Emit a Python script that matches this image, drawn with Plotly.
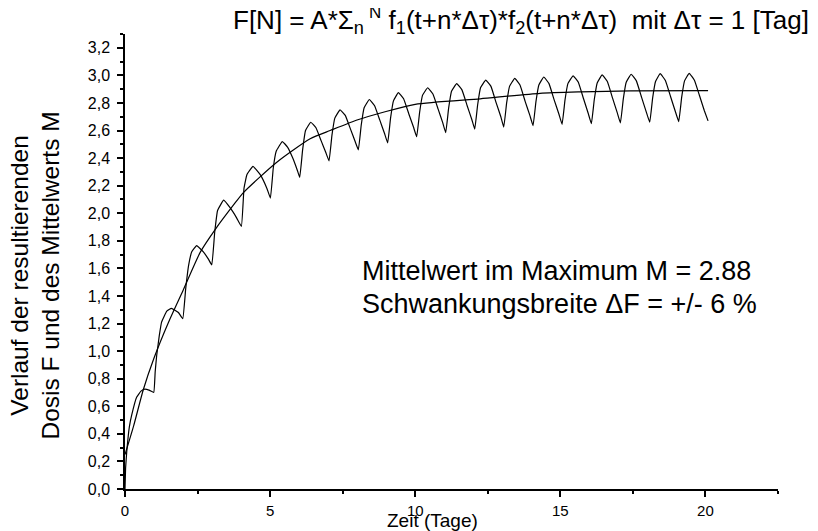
import plotly.graph_objects as go

# Sawtooth curve F (resulting dose)
t_F = [0.0, 0.02, 0.06, 0.15, 0.23, 0.40, 0.55, 0.68, 0.85, 0.99,
       1.04, 1.09, 1.18, 1.26, 1.44, 1.60, 1.84, 1.99,
       2.09, 2.19, 2.30, 2.47, 2.70, 2.88, 2.99,
       3.09, 3.19, 3.40, 3.62, 3.85, 4.01,
       4.10, 4.20, 4.41, 4.66, 4.89, 5.01,
       5.11, 5.21, 5.42, 5.60, 5.78, 5.94, 6.02,
       6.12, 6.22, 6.40, 6.58, 6.76, 6.92, 7.03,
       7.13, 7.23, 7.41, 7.59, 7.77, 7.93, 8.04,
       8.14, 8.24, 8.42, 8.60, 8.78, 8.94, 9.05,
       9.15, 9.25, 9.42, 9.60, 9.78, 9.94, 10.05,
       10.15, 10.25, 10.43, 10.61, 10.79, 10.95, 11.05,
       11.15, 11.25, 11.43, 11.61, 11.79, 11.95, 12.05,
       12.15, 12.25, 12.43, 12.61, 12.79, 12.95, 13.05,
       13.15, 13.25, 13.43, 13.61, 13.79, 13.95, 14.06,
       14.16, 14.26, 14.43, 14.61, 14.79, 14.95, 15.06,
       15.16, 15.26, 15.44, 15.62, 15.80, 15.96, 16.07,
       16.17, 16.27, 16.44, 16.62, 16.80, 16.96, 17.07,
       17.17, 17.27, 17.44, 17.62, 17.80, 17.96, 18.08,
       18.18, 18.28, 18.44, 18.62, 18.80, 18.96, 19.08,
       19.18, 19.28, 19.44, 19.62, 19.80, 19.96, 20.09]
F_values = [0.0, 0.15, 0.27, 0.45, 0.535, 0.665, 0.71, 0.725, 0.715, 0.70,
            0.85, 0.965, 1.11, 1.21, 1.29, 1.31, 1.28, 1.235,
            1.45, 1.62, 1.72, 1.765, 1.72, 1.665, 1.625,
            1.86, 2.02, 2.095, 2.04, 1.965, 1.905,
            2.18, 2.28, 2.34, 2.28, 2.18, 2.11,
            2.33, 2.45, 2.52, 2.48, 2.40, 2.31, 2.26,
            2.46, 2.60, 2.66, 2.62, 2.525, 2.44, 2.38,
            2.565, 2.69, 2.75, 2.71, 2.61, 2.52, 2.46,
            2.64, 2.765, 2.825, 2.78, 2.675, 2.58, 2.51,
            2.69, 2.815, 2.875, 2.83, 2.72, 2.625, 2.555,
            2.73, 2.855, 2.91, 2.865, 2.755, 2.655, 2.585,
            2.76, 2.885, 2.94, 2.895, 2.78, 2.68, 2.61,
            2.785, 2.91, 2.965, 2.92, 2.80, 2.70, 2.625,
            2.80, 2.92, 2.978, 2.93, 2.81, 2.71, 2.635,
            2.81, 2.93, 2.988, 2.94, 2.82, 2.72, 2.645,
            2.82, 2.94, 2.997, 2.95, 2.83, 2.725, 2.65,
            2.825, 2.945, 3.003, 2.955, 2.835, 2.73, 2.655,
            2.83, 2.95, 3.008, 2.96, 2.84, 2.735, 2.66,
            2.835, 2.955, 3.012, 2.963, 2.845, 2.74, 2.665,
            2.84, 2.96, 3.015, 2.965, 2.85, 2.745, 2.67]

# Mean curve M
t_M = [0.0, 0.3, 0.63, 1.0, 1.5, 2.0, 2.6, 3.1, 3.74, 4.08, 5.23, 6.38,
       7.07, 8.05, 10.0, 12.24, 14.3, 15.69, 17.41, 20.09]
M_values = [0.25, 0.46, 0.72, 0.95, 1.21, 1.44, 1.72, 1.88, 2.06, 2.15, 2.37,
            2.54, 2.60, 2.68, 2.79, 2.83, 2.87, 2.88, 2.887, 2.89]

title_text = ("F[N] = A*Σ<sub>n</sub><sup> <span style='font-size:17px'>N</span></sup> "
              "f<sub>1</sub>(t+n*Δτ)*f<sub>2</sub>(t+n*Δτ)  mit Δτ = 1 [Tag]")
y_title = "Verlauf der resultierenden<br>Dosis F und des Mittelwerts M"
x_title = "Zeit (Tage)"
note_lines = ["Mittelwert im Maximum M = 2.88", "Schwankungsbreite ΔF = +/- 6 %"]
note_y = [1.58, 1.34]

FONT = "Arial, 'Liberation Sans', sans-serif"

L, R, T, B = 117, 48, 26, 50
PW = 818 - L - R

fig = go.Figure()
fig.add_trace(go.Scatter(x=t_M, y=M_values, mode="lines",
                         line=dict(color="black", width=1.2, shape="spline", smoothing=0.6),
                         showlegend=False, hoverinfo="skip"))
fig.add_trace(go.Scatter(x=t_F, y=F_values, mode="lines",
                         line=dict(color="black", width=1.2, shape="spline", smoothing=0.3),
                         showlegend=False, hoverinfo="skip"))

fig.update_layout(
    width=818, height=531,
    margin=dict(l=L, r=R, t=T, b=B),
    paper_bgcolor="white", plot_bgcolor="white",
    separators=", ",
    font=dict(family=FONT, color="black"),
    showlegend=False,
)
fig.update_xaxes(range=[0, 22.5], showgrid=False, zeroline=False, showline=True, linecolor="black", linewidth=1.5,
                 ticks="outside", tickwidth=1.5, ticklen=6, tickcolor="black", tick0=0, dtick=5,
                 tickfont=dict(size=15, family=FONT), ticklabelstandoff=1,
                 minor=dict(ticks="outside", ticklen=3, tickwidth=1.5, tickcolor="black", dtick=2.5, showgrid=False))
fig.update_yaxes(range=[0, 3.3], showgrid=False, zeroline=False, showline=True, linecolor="black", linewidth=1.5,
                 ticks="outside", tickwidth=1.5, ticklen=6, tickcolor="black", tick0=0, dtick=0.2, tickformat=".1f",
                 tickfont=dict(size=16, family=FONT), ticklabelstandoff=4,
                 minor=dict(ticks="outside", ticklen=3, tickwidth=1.5, tickcolor="black", dtick=0.1, showgrid=False))

# chart title
fig.add_annotation(text=title_text, xref="paper", yref="paper", x=(803 - L) / PW, y=1,
                   xanchor="right", yanchor="middle", yshift=T - 12, showarrow=False,
                   font=dict(size=26, family=FONT))
# y axis title (two lines)
fig.add_annotation(text=y_title, xref="paper", yref="paper", x=0, y=0.5, xshift=27 - L, yshift=-14,
                   textangle=-90, showarrow=False, font=dict(size=24.5, family=FONT), align="center",
                   xanchor="center", yanchor="middle")
# x axis title
fig.add_annotation(text=x_title, xref="paper", yref="paper", x=10.6 / 22.5, y=0, yshift=-31,
                   showarrow=False, font=dict(size=19, family=FONT), xanchor="center", yanchor="middle")
# note text
for line, yv in zip(note_lines, note_y):
    fig.add_annotation(text=line, xref="x", yref="y", x=8.1, y=yv,
                       showarrow=False, font=dict(size=27, family=FONT), align="left",
                       xanchor="left", yanchor="middle")

fig.write_html("out.html")
